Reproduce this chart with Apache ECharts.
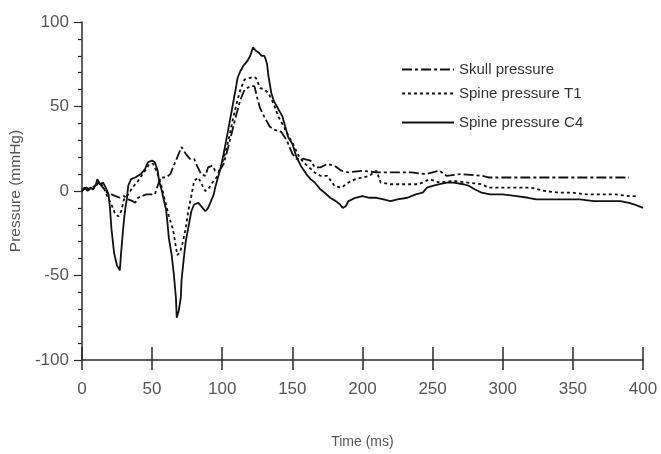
<!DOCTYPE html>
<html>
<head>
<meta charset="utf-8">
<script src="https://cdn.jsdelivr.net/npm/echarts@6/dist/echarts.min.js"></script>
<style>
  html, body { margin: 0; padding: 0; background: #fff; }
  #chart { width: 661px; height: 454px; }
</style>
</head>
<body>
<div id="chart"></div>
<script>
// Pressure traces, [time (ms), pressure (mmHg)]
const skullPressure = [
  [0,0],[3,2],[6,1],[9,3],[12,5],[15,2],[18,-1],[21,-2],[24,-3],[27,-4],[30,-3],[33,-5],
  [36,-6],[38,-7],[40,-4],[43,-3],[46,-2],[49,-2],[52,-2],[54,3],[56,8],[60,8],[63,10],
  [65,14],[67,18],[69,22],[71,26],[72,27],[74,22],[77,19],[80,19],[82,15],[85,10],[88,9],
  [90,14],[93,15],[95,12],[98,12],[101,16],[104,25],[107,35],[110,45],[113,54],[116,60],
  [120,62],[123,62],[125,55],[127,49],[130,44],[134,38],[138,36],[142,35],[146,30],
  [150,22],[153,19],[158,19],[163,18],[166,14],[170,14],[175,16],[180,15],[185,12],
  [190,11],[200,12],[210,11],[220,11],[235,11],[245,10],[255,12],[260,9],[270,10],
  [285,9],[290,8],[310,8],[330,8],[350,8],[370,8],[390,8]
];

const spineT1 = [
  [0,1],[3,2],[6,0],[9,2],[12,5],[15,3],[18,-3],[21,-8],[24,-14],[26,-15],[28,-12],
  [30,-5],[33,-2],[36,2],[40,6],[45,12],[48,16],[51,16],[54,10],[57,2],[59,-5],[62,-15],
  [65,-23],[67,-33],[68,-38],[70,-36],[72,-30],[74,-22],[76,-11],[78,-3],[80,6],[83,8],
  [86,3],[88,0],[90,1],[93,5],[96,8],[99,14],[102,22],[105,32],[108,44],[111,54],
  [113,60],[116,66],[120,67],[124,67],[127,61],[130,60],[133,58],[137,51],[140,44],
  [144,38],[147,33],[151,27],[155,20],[158,17],[162,14],[166,11],[170,9],[175,9],
  [180,3],[185,2],[190,5],[195,7],[200,8],[205,9],[210,12],[213,5],[220,4],[230,4],
  [240,4],[248,7],[255,5],[265,6],[275,5],[285,4],[290,2],[300,2],[310,2],[320,2],
  [330,0],[340,-1],[350,-1],[360,-2],[370,-2],[380,-2],[390,-3],[396,-3]
];

const spineC4 = [
  [0,0],[2,2],[4,0],[6,2],[8,1],[10,4],[11,7],[13,4],[15,5],[17,2],[19,-2],[20,-10],
  [21,-22],[23,-37],[25,-44],[27,-47],[28,-36],[29,-26],[30,-17],[31,-10],[32,-5],
  [33,3],[35,7],[38,8],[42,10],[45,13],[47,17],[50,18],[52,17],[54,12],[55,6],[57,0],
  [58,-4],[60,-11],[61,-19],[62,-28],[64,-38],[65.5,-49],[67,-63],[67.6,-75],[69,-71],
  [70.5,-63],[71,-53],[72.6,-40],[74,-30],[76,-21],[78,-12],[80,-8],[83,-7],[86,-10],
  [88,-12],[90,-10],[92,-6],[94,-2],[95,2],[97,8],[99,14],[101,22],[104,35],[106,44],
  [108,53],[110,62],[111,67],[113,71],[115,74],[118,77],[120,80],[122,85],[124,83],
  [126,82],[128,80],[130,80],[131,78],[132,75],[133,68],[135,58],[137,53],[139,50],
  [141,47],[143,44],[145,38],[147,32],[150,28],[153,20],[156,15],[160,10],[163,7],
  [166,5],[170,1],[173,-1],[177,-4],[181,-6],[184,-8],[186,-10],[188,-9],[190,-6],
  [195,-4],[200,-3],[205,-4],[210,-4],[215,-5],[220,-6],[225,-5],[232,-4],[238,-2],
  [243,-1],[246,2],[250,3],[255,4],[260,5],[265,5],[272,4],[276,3],[280,1],[285,-1],
  [291,-2],[300,-2],[310,-3],[318,-4],[324,-5],[335,-5],[345,-5],[355,-5],[365,-6],
  [375,-6],[384,-6],[390,-7],[394,-8],[397,-9],[400,-10]
];

const seriesNames = ['Skull pressure', 'Spine pressure T1', 'Spine pressure C4'];
const xTicks = { min: 0, max: 400, interval: 50 };
const yTicks = { min: -100, max: 100, interval: 50 };

const font = "'Liberation Sans', Arial, sans-serif";
const ink = '#111';
const axisInk = '#2a2a2a';

const chart = echarts.init(document.getElementById('chart'), null, { renderer: 'canvas' });

// one legend block per series so each row can sit at its own height
function legendFor(name, top) {
  return {
    data: [name],
    left: 396,
    top: top,
    itemWidth: 52,
    itemHeight: 14,
    itemStyle: { opacity: 0 },
    textStyle: { fontFamily: font, fontSize: 15, color: '#333' },
    selectedMode: false
  };
}

chart.setOption({
  animation: false,
  backgroundColor: '#fff',
  grid: { left: 81, right: 18, top: 22, bottom: 82, containLabel: false },
  legend: [
    legendFor(seriesNames[0], 57),
    legendFor(seriesNames[1], 81),
    legendFor(seriesNames[2], 110)
  ],
  xAxis: [
    {
      type: 'value',
      min: xTicks.min, max: xTicks.max, interval: xTicks.interval,
      name: 'Time (ms)',
      nameLocation: 'middle',
      nameGap: 75,
      nameTextStyle: { fontFamily: font, fontSize: 14, color: '#555' },
      axisLine: { show: true, onZero: false, lineStyle: { color: axisInk, width: 1.5 } },
      axisTick: { show: true, length: 10, lineStyle: { color: axisInk, width: 1.5 } },
      axisLabel: { fontFamily: font, fontSize: 17, color: '#555', margin: 21 },
      splitLine: { show: false }
    },
    {
      // companion axis that carries the upward half of each crossing tick
      type: 'value',
      position: 'bottom',
      offset: 0,
      min: xTicks.min, max: xTicks.max, interval: xTicks.interval,
      axisLine: { show: false, onZero: false },
      axisTick: { show: true, inside: true, length: 13, lineStyle: { color: axisInk, width: 1.5 } },
      axisLabel: { show: false },
      splitLine: { show: false }
    }
  ],
  yAxis: {
    type: 'value',
    min: yTicks.min, max: yTicks.max, interval: yTicks.interval,
    name: 'Pressure (mmHg)',
    nameLocation: 'middle',
    nameGap: 54,
    nameRotate: 90,
    nameTextStyle: { fontFamily: font, fontSize: 15.5, color: '#555' },
    axisLine: { show: true, onZero: false, lineStyle: { color: axisInk, width: 1.5 } },
    axisTick: { show: true, length: 8, lineStyle: { color: axisInk, width: 1.2 } },
    minorTick: { show: true, splitNumber: 5, length: 4, lineStyle: { color: axisInk, width: 1.2 } },
    axisLabel: { fontFamily: font, fontSize: 17, color: '#555', margin: 13 },
    splitLine: { show: false },
    minorSplitLine: { show: false }
  },
  series: [
    {
      name: seriesNames[0], type: 'line', data: skullPressure, xAxisIndex: 0,
      symbol: 'none', color: ink,
      lineStyle: { color: ink, width: 1.8, type: [10, 3, 3, 3] }
    },
    {
      name: seriesNames[1], type: 'line', data: spineT1, xAxisIndex: 0,
      symbol: 'none', color: ink,
      lineStyle: { color: ink, width: 1.8, type: [3, 3] }
    },
    {
      name: seriesNames[2], type: 'line', data: spineC4, xAxisIndex: 0,
      symbol: 'none', color: ink,
      lineStyle: { color: ink, width: 1.8, type: 'solid' }
    }
  ]
});
</script>
</body>
</html>
